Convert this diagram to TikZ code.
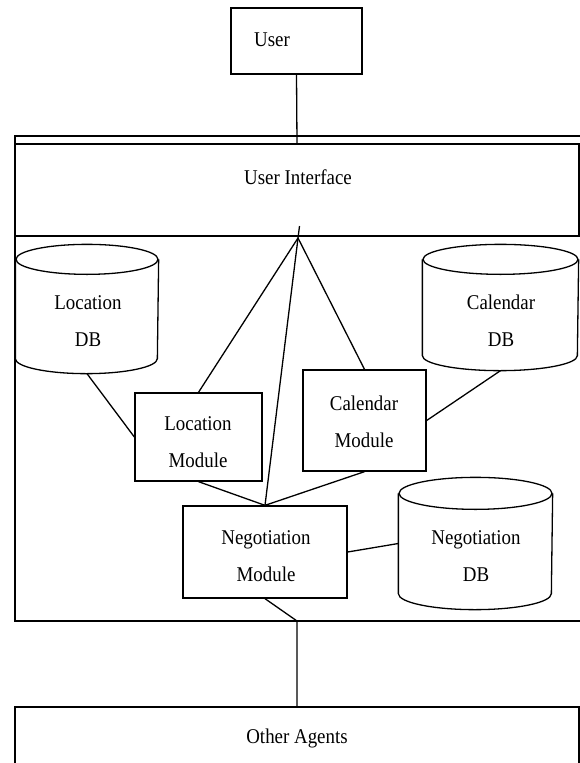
\documentclass[tikz,border=0pt]{standalone}
\usepackage{fontspec}
\setmainfont{Liberation Serif}[FakeStretch=0.9]
\newcommand{\drawdb}[3]{%
  \draw ([yshift=-#3pt]#1.north) ellipse [x radius=#2pt, y radius=#3pt];
  \draw ([yshift=-#3pt]#1.north west) -- ([yshift=#3pt]#1.south west)
    arc [start angle=180, end angle=360, x radius=#2pt, y radius=#3pt]
    -- ([yshift=-#3pt]#1.north east);}
\begin{document}
\begin{tikzpicture}[x=1pt, y=-1pt, line width=1.3pt,
  box/.style={draw, rectangle, inner sep=0pt},
  area/.style={rectangle, inner sep=0pt},
  lbl/.style={align=center, inner sep=0pt, font=\fontsize{21}{37}\selectfont},
  conn/.style={draw}]
\useasboundingbox (0,0) rectangle (580,763);
% boxes
\node[box, minimum width=131pt, minimum height=66pt] (user) at (296.5,41) {};
\node[box, minimum width=567pt, minimum height=485pt] (system) at (298.5,378.5) {};
\node[box, minimum width=564pt, minimum height=92pt] (ui) at (297,190) {};
\node[box, minimum width=564pt, minimum height=63pt] (agents) at (297,738.5) {};
\node[box, minimum width=127pt, minimum height=88pt] (locmod) at (198.5,437) {};
\node[box, minimum width=123pt, minimum height=101pt] (calmod) at (364.5,420.5) {};
\node[box, minimum width=164pt, minimum height=92pt] (negmod) at (265,552) {};
% databases
\node[area, minimum width=142pt, minimum height=128pt] (locdb) at (87,309) {};
\node[area, minimum width=155pt, minimum height=125pt] (caldb) at (500.5,307.5) {};
\node[area, minimum width=153pt, minimum height=131pt] (negdb) at (475.5,543.5) {};
\drawdb{locdb}{71}{15}
\drawdb{caldb}{77.5}{15}
\drawdb{negdb}{76.5}{16}
% labels
\node[lbl] (usertxt) at (272,40) {User};
\node[lbl] (uitxt) at (298,177) {User Interface};
\node[lbl] (agtxt) at (297,738) {Other Agents};
\node[lbl] (locdbtxt) at (88,321) {Location\\DB};
\node[lbl] (caldbtxt) at (501,321) {Calendar\\DB};
\node[lbl] (negdbtxt) at (476,556) {Negotiation\\DB};
\node[lbl] (locmodtxt) at (198,442.5) {Location\\Module};
\node[lbl] (calmodtxt) at (364,421.5) {Calendar\\Module};
\node[lbl] (negmodtxt) at (266,556.5) {Negotiation\\Module};
% connector points
\coordinate (apex) at (298,238);
\coordinate (stub) at (299.5,226);
\coordinate (busdn) at (297,621);
% connectors
\draw[conn] (user.south) -- (ui.north);
\draw[conn] (stub) -- (negmod.north);
\draw[conn] (apex) -- (locmod.north);
\draw[conn] (apex) -- (calmod.north);
\draw[conn] (locdb.south) -- (locmod.west);
\draw[conn] (caldb.south) -- (calmod.east);
\draw[conn] (locmod.south) -- (negmod.north);
\draw[conn] (calmod.south) -- (negmod.north);
\draw[conn] (negmod.east) -- (negdb.west);
\draw[conn] (negmod.south) -- (busdn) -- (agents.north);
\end{tikzpicture}
\end{document}
